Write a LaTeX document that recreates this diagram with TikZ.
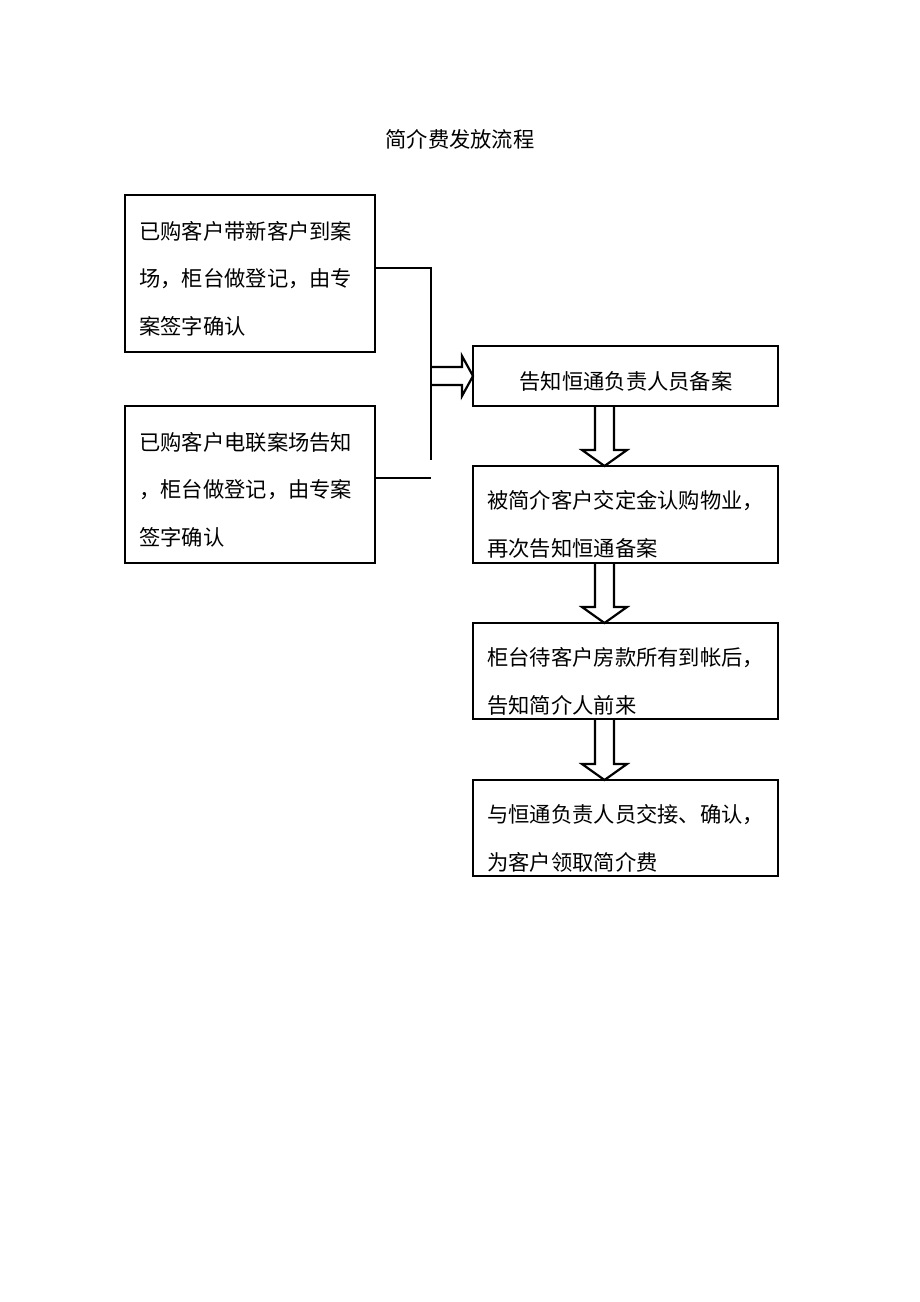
\documentclass[tikz,border=0pt]{standalone}
\usepackage{fontspec}
\newfontfamily\cjk{Noto Sans CJK SC}
\usetikzlibrary{calc}
\newcommand\darr[2]{\draw[arr] ($(#1.south west)+(122,0)$) -- ($(#2.north west)+(122,-16)$) -- ($(#2.north west)+(109,-16)$) -- ($(#2.north west)+(131.5,0)$) -- ($(#2.north west)+(154,-16)$) -- ($(#2.north west)+(141,-16)$) -- ($(#1.south west)+(141,0)$);}
\begin{document}
\begin{tikzpicture}[x=1pt,y=-1pt,
  box/.style={draw, line width=2.2pt, rectangle, inner sep=0pt, outer sep=0pt, anchor=north west},
  txt/.style={font=\cjk\fontsize{21.3}{47.5}\selectfont, inner sep=0pt, align=left},
  arr/.style={line width=2.2pt, line join=miter},
  conn/.style={line width=2.2pt}]
\useasboundingbox[fill=white] (0,0) rectangle (920,1302);
\node[txt, anchor=base] (title) at (460,147) {简介费发放流程};
% left boxes
\node[box, minimum width=250, minimum height=157] (A) at (125,195) {};
\node[txt, anchor=base west] (At) at (139,334) {已购客户带新客户到案\\场，柜台做登记，由专\\案签字确认};
\node[box, minimum width=250, minimum height=157] (B) at (125,406) {};
\node[txt, anchor=base west] (Bt) at (139,545) {已购客户电联案场告知\\，柜台做登记，由专案\\签字确认};
% right boxes
\node[box, minimum width=305, minimum height=60] (C) at (473,346) {};
\node[txt, anchor=base] (Ct) at (626,389) {告知恒通负责人员备案};
\node[box, minimum width=305, minimum height=97] (D) at (473,466) {};
\node[txt, anchor=base west] (Dt) at (487,556) {被简介客户交定金认购物业，\\再次告知恒通备案};
\node[box, minimum width=305, minimum height=96] (E) at (473,623) {};
\node[txt, anchor=base west] (Et) at (487,713) {柜台待客户房款所有到帐后，\\告知简介人前来};
\node[box, minimum width=305, minimum height=96] (F) at (473,780) {};
\node[txt, anchor=base west] (Ft) at (487,870) {与恒通负责人员交接、确认，\\为客户领取简介费};
% connectors from left boxes
\coordinate (jt) at (431,268);
\coordinate (jb) at (431,460);
\coordinate (jm) at (431,478);
\draw[conn] (A.east |- jt) -- (jt) -- (jb);
\draw[conn] (B.east |- jm) -- (jm);
% double arrow into C
\draw[arr] ($(C.west)+(-42,-9)$) -- ($(C.west)+(-11,-9)$) -- ($(C.west)+(-11,-20)$) -- (C.west) -- ($(C.west)+(-11,20)$) -- ($(C.west)+(-11,9)$) -- ($(C.west)+(-42,9)$);
% hollow down arrows
\darr{C}{D}
\darr{D}{E}
\darr{E}{F}
\end{tikzpicture}
\end{document}
